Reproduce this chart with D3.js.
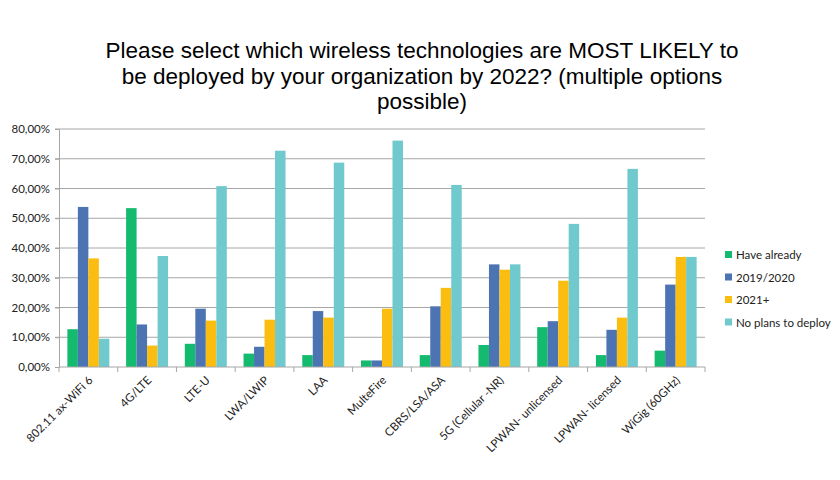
<!DOCTYPE html>
<html>
<head>
<meta charset="utf-8">
<script src="https://cdn.jsdelivr.net/npm/d3@7"></script>
<style>
  body { margin: 0; background: #fff; }
  svg { display: block; }
</style>
</head>
<body>
<svg id="chart" width="840" height="480"></svg>
<script>
// survey data (percent)
var categories = ["802.11 ax-WiFi 6", "4G/LTE", "LTE-U", "LWA/LWIP", "LAA", "MulteFire",
    "CBRS/LSA/ASA", "5G (Cellular -NR)", "LPWAN- unlicensed", "LPWAN- licensed", "WiGig (60GHz)"];
var seriesNames = ["Have already", "2019/2020", "2021+", "No plans to deploy"];
var haveAlready = [12.7, 53.4, 7.8, 4.5, 4.0, 2.2, 4.0, 7.4, 13.4, 4.0, 5.5];
var y2019 = [53.8, 14.3, 19.6, 6.8, 18.8, 2.2, 20.4, 34.5, 15.4, 12.5, 27.7];
var y2021 = [36.5, 7.2, 15.6, 15.9, 16.6, 19.6, 26.6, 32.7, 29.0, 16.6, 37.0];
var noPlans = [9.5, 37.3, 60.8, 72.7, 68.7, 76.1, 61.2, 34.5, 48.1, 66.6, 37.0];
var yTicks = [0, 10, 20, 30, 40, 50, 60, 70, 80];
var colors = ["#14bb6e", "#4d74b2", "#fbbd0f", "#70c9cd"];

var seriesValues = [haveAlready, y2019, y2021, noPlans];

var svg = d3.select("#chart");
var margin = {left: 59, top: 129, right: 705, bottom: 367};

var x = d3.scaleBand()
    .domain(categories)
    .range([margin.left, margin.right])
    .paddingInner(0.285)
    .paddingOuter(0.1425);

var x1 = d3.scaleBand()
    .domain(d3.range(seriesNames.length))
    .range([0, x.bandwidth()]);

var y = d3.scaleLinear()
    .domain([0, 80])
    .range([margin.bottom, margin.top]);

// title
var title = ["Please select which wireless technologies are MOST LIKELY to",
    "be deployed by your organization by 2022? (multiple options",
    "possible)"];
svg.append("g").selectAll("text")
    .data(title)
    .enter().append("text")
    .attr("x", 422)
    .attr("y", function (d, i) { return 58 + i * 25.5; })
    .attr("text-anchor", "middle")
    .attr("font-family", "Liberation Sans, Arial, sans-serif")
    .attr("font-size", "22.5px")
    .attr("fill", "#000")
    .text(function (d) { return d; });

// gridlines
svg.append("g").selectAll("line")
    .data(yTicks.filter(function (d) { return d > 0; }))
    .enter().append("line")
    .attr("x1", margin.left - 4)
    .attr("x2", margin.right)
    .attr("y1", function (d) { return y(d); })
    .attr("y2", function (d) { return y(d); })
    .attr("stroke", "#a6a6a6")
    .attr("stroke-width", 1);

// y axis
var yAxis = d3.axisLeft(y)
    .tickValues(yTicks)
    .tickSize(4)
    .tickFormat(function (d) { return d3.format(".2f")(d).replace(".", ",") + "%"; });
var yg = svg.append("g")
    .attr("transform", "translate(" + margin.left + ",0)")
    .call(yAxis);
yg.select(".domain").attr("stroke", "#a6a6a6");
yg.selectAll(".tick line").attr("stroke", "#a6a6a6");
yg.selectAll(".tick text")
    .attr("font-family", "Lato, Carlito, sans-serif")
    .attr("font-size", "11.5px")
    .attr("fill", "#222")
    .attr("x", -9);

// bars
var groups = svg.append("g").selectAll("g")
    .data(categories)
    .enter().append("g")
    .attr("transform", function (d) { return "translate(" + x(d) + ",0)"; });

groups.selectAll("rect")
    .data(function (d, i) {
        return seriesValues.map(function (vals, s) { return {s: s, v: vals[i]}; });
    })
    .enter().append("rect")
    .attr("x", function (d) { return x1(d.s); })
    .attr("width", x1.bandwidth())
    .attr("y", function (d) { return y(d.v); })
    .attr("height", function (d) { return y(0) - y(d.v); })
    .attr("fill", function (d) { return colors[d.s]; });

// x axis
var step = x.step();
var xg = svg.append("g");
xg.append("line")
    .attr("x1", margin.left).attr("x2", margin.right)
    .attr("y1", y(0)).attr("y2", y(0))
    .attr("stroke", "#a6a6a6");
xg.selectAll(".xtick")
    .data(d3.range(categories.length + 1))
    .enter().append("line")
    .attr("class", "xtick")
    .attr("x1", function (d) { return margin.left + d * step; })
    .attr("x2", function (d) { return margin.left + d * step; })
    .attr("y1", y(0))
    .attr("y2", y(0) + 5)
    .attr("stroke", "#a6a6a6");
xg.selectAll("text")
    .data(categories)
    .enter().append("text")
    .attr("transform", function (d) {
        return "translate(" + (x(d) + x.bandwidth() / 2 + 5) + "," + (y(0) + 14) + ") rotate(-45)";
    })
    .attr("text-anchor", "end")
    .attr("font-family", "Lato, Carlito, sans-serif")
    .attr("font-size", "11.5px")
    .attr("fill", "#222")
    .text(function (d) { return d; });

// legend
var legend = svg.append("g").selectAll("g")
    .data(seriesNames)
    .enter().append("g")
    .attr("transform", function (d, i) { return "translate(725," + (255 + i * 22.5) + ")"; });
legend.append("rect")
    .attr("x", 0).attr("y", -4)
    .attr("width", 7).attr("height", 7)
    .attr("fill", function (d, i) { return colors[i]; });
legend.append("text")
    .attr("x", 11)
    .attr("y", 4)
    .attr("font-family", "Lato, Carlito, sans-serif")
    .attr("font-size", "11.5px")
    .attr("fill", "#222")
    .text(function (d) { return d; });
</script>
</body>
</html>
